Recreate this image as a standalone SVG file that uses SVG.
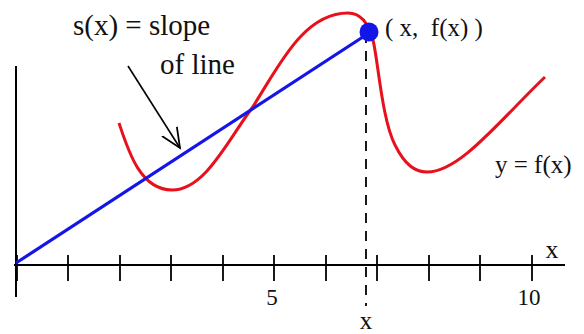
<svg xmlns="http://www.w3.org/2000/svg" width="584" height="334" viewBox="0 0 584 334">
<style>
.ax{stroke:#000;stroke-width:2;fill:none}
.tk{stroke:#000;stroke-width:1.8}
.t{font-family:"Liberation Serif","Times New Roman",serif;fill:#111}
</style>
<defs>
<marker id="open" viewBox="0 0 20 20" refX="18" refY="10" markerWidth="22" markerHeight="22" markerUnits="userSpaceOnUse" orient="auto">
<path d="M0,2 L18,10 L0,18" fill="none" stroke="#000" stroke-width="1.6"/>
</marker>
</defs>
<rect width="584" height="334" fill="#fff"/>
<g id="axes">
<line class="ax" x1="16" y1="66" x2="16" y2="297"/>
<line class="ax" x1="14" y1="265" x2="565" y2="265"/>
<g class="tk">
<line x1="17" y1="255" x2="17" y2="281"/>
<line x1="68" y1="255" x2="68" y2="281"/>
<line x1="120" y1="255" x2="120" y2="281"/>
<line x1="171" y1="255" x2="171" y2="281"/>
<line x1="223" y1="255" x2="223" y2="281"/>
<line x1="274" y1="255" x2="274" y2="281"/>
<line x1="326" y1="255" x2="326" y2="281"/>
<line x1="377" y1="255" x2="377" y2="281"/>
<line x1="429" y1="255" x2="429" y2="281"/>
<line x1="480" y1="255" x2="480" y2="281"/>
<line x1="532" y1="255" x2="532" y2="281"/>
</g>
<text class="t" x="272" y="305" font-size="23" text-anchor="middle">5</text>
<text class="t" x="529" y="305" font-size="23" text-anchor="middle">10</text>
<text class="t" x="552" y="258" font-size="26" text-anchor="middle">x</text>
</g>
<g id="curve">
<path d="M119,123 C128,150 140,190 172,190 C205,190 228,140 252,108 C277,70 302,13 348,13 C362,13 369,25 373,40 C378,60 382,120 395,145 C405,165 415,172 427,172 C460,172 500,120 545,77" fill="none" stroke="#e8101c" stroke-width="3"/>
<text class="t" x="495" y="173" font-size="25">y = f(x)</text>
</g>
<g id="connectors">
<line x1="16" y1="263" x2="369" y2="33" stroke="#1515e8" stroke-width="3.2"/>
<line x1="366" y1="33" x2="366" y2="306" stroke="#000" stroke-width="1.8" stroke-dasharray="10,8"/>
<line x1="128" y1="66" x2="180" y2="148" stroke="#000" stroke-width="1.6" marker-end="url(#open)"/>
</g>
<g id="point">
<circle cx="369" cy="32" r="9.5" fill="#1515e8"/>
<text class="t" x="385" y="36" font-size="25" xml:space="preserve">( x,  f(x) )</text>
</g>
<g id="xlabel">
<text class="t" x="366" y="329" font-size="25" text-anchor="middle">x</text>
</g>
<g id="label">
<text class="t" x="73" y="35" font-size="29">s(x) = slope</text>
<text class="t" x="160" y="74" font-size="29">of line</text>
</g>
</svg>
